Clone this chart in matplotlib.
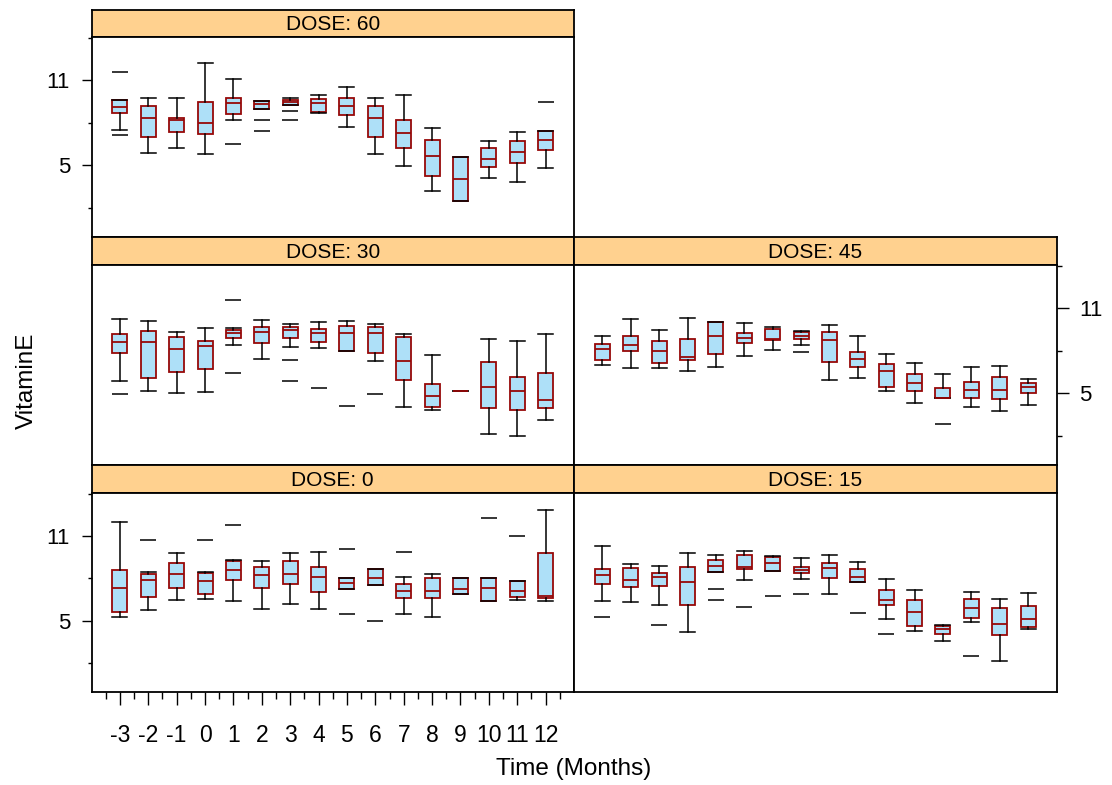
import matplotlib
matplotlib.use("Agg")
import matplotlib.pyplot as plt

plt.rcParams['font.family'] = ['Liberation Sans', 'DejaVu Sans']

months = ['-3', '-2', '-1', '0', '1', '2', '3', '4', '5', '6', '7', '8', '9', '10', '11', '12']

# DOSE 60
d60_lo = [7.52, 5.87, 6.20, 5.80, 8.22, 8.95, 9.24, 8.72, 7.68, 5.78, 4.93, 3.19, 2.48, 4.11, 3.85, 4.79]
d60_q1 = [8.69, 7.00, 7.38, 7.24, 8.62, 8.95, 9.24, 8.76, 8.58, 7.02, 6.20, 4.22, 2.48, 4.91, 5.19, 6.06]
d60_med = [9.14, 8.32, 8.22, 8.01, 9.40, 9.31, 9.45, 9.40, 9.21, 8.36, 7.28, 5.68, 4.04, 5.47, 5.94, 6.81]
d60_q3 = [9.59, 9.19, 8.36, 9.49, 9.78, 9.54, 9.59, 9.66, 9.73, 9.19, 8.20, 6.79, 5.59, 6.25, 6.74, 7.40]
d60_hi = [9.59, 9.75, 9.73, 12.22, 11.07, 9.54, 9.75, 9.96, 10.53, 9.75, 9.94, 7.64, 5.59, 6.72, 7.35, 7.45]
d60_out = [[11.59, 7.12], [], [], [], [6.51], [8.22, 7.42], [8.86, 8.18], [], [], [], [], [], [], [], [], [9.49]]

# DOSE 30
d30_lo = [5.87, 5.14, 5.00, 5.10, 8.43, 7.44, 8.29, 8.22, 7.96, 7.30, 4.06, 3.83, 5.14, 2.14, 2.02, 3.10]
d30_q1 = [7.82, 6.06, 6.48, 6.69, 8.90, 8.55, 8.90, 8.59, 7.96, 7.84, 5.96, 4.02, 5.14, 3.95, 3.81, 4.00]
d30_med = [8.64, 8.64, 8.15, 8.31, 9.27, 9.30, 9.44, 9.25, 9.27, 9.27, 7.30, 4.84, 5.14, 5.42, 5.19, 4.51]
d30_q3 = [9.18, 9.37, 8.97, 8.71, 9.46, 9.67, 9.70, 9.51, 9.74, 9.67, 8.97, 5.64, 5.14, 7.23, 6.13, 6.44]
d30_hi = [10.21, 10.07, 9.35, 9.58, 9.60, 10.19, 9.88, 10.00, 10.07, 9.86, 9.18, 7.68, 5.14, 8.81, 8.66, 9.20]
d30_out = [[4.96], [], [], [], [11.58, 6.41], [], [7.37, 5.85], [5.40], [4.13], [4.98], [], [], [], [], [], []]

# DOSE 45
d45_lo = [7.02, 6.81, 6.79, 6.55, 6.86, 7.65, 8.05, 8.43, 5.94, 6.08, 5.19, 4.32, 4.70, 4.04, 3.78, 4.16]
d45_q1 = [7.35, 7.96, 7.14, 7.35, 7.77, 8.52, 8.76, 8.83, 7.18, 6.86, 5.45, 5.17, 4.70, 4.65, 4.60, 5.00]
d45_med = [8.10, 8.43, 7.98, 7.56, 9.06, 8.92, 8.81, 9.06, 8.73, 7.42, 6.58, 5.73, 4.70, 5.26, 5.26, 5.43]
d45_q3 = [8.48, 9.06, 8.69, 8.83, 10.00, 9.25, 9.53, 9.32, 9.32, 7.91, 7.07, 6.38, 5.35, 5.78, 6.17, 5.76]
d45_hi = [9.06, 10.24, 9.49, 10.28, 10.00, 9.93, 9.67, 9.37, 9.79, 9.06, 7.80, 7.11, 6.34, 6.83, 6.95, 5.99]
d45_out = [[], [], [], [], [], [], [], [7.91], [], [], [], [], [2.84], [], [], []]

# DOSE 0
d0_lo = [5.23, 5.79, 6.49, 6.52, 6.38, 5.84, 6.21, 5.84, 7.27, 7.53, 5.51, 5.27, 6.92, 6.42, 6.49, 6.42]
d0_q1 = [5.60, 6.70, 7.34, 6.89, 7.92, 7.34, 7.60, 7.03, 7.27, 7.53, 6.63, 6.61, 6.92, 6.42, 6.70, 6.59]
d0_med = [7.29, 7.90, 8.32, 7.78, 8.58, 8.23, 8.28, 8.07, 7.64, 8.00, 7.10, 7.13, 7.22, 7.34, 7.13, 6.75]
d0_q3 = [8.56, 8.30, 9.08, 8.35, 9.26, 8.82, 9.26, 8.84, 8.04, 8.63, 7.57, 8.02, 8.00, 8.02, 7.81, 9.78]
d0_hi = [12.01, 8.44, 9.78, 8.42, 9.31, 9.24, 9.78, 9.85, 8.04, 8.65, 8.11, 8.30, 8.00, 8.04, 7.83, 12.83]
d0_out = [[], [10.74], [], [10.72], [11.80], [], [], [], [10.06, 5.46], [5.01], [9.85], [], [], [12.27], [11.02], []]

# DOSE 15
d15_lo = [6.38, 6.35, 6.09, 4.22, 8.46, 7.88, 8.49, 7.95, 6.89, 7.71, 5.15, 4.29, 3.58, 4.94, 2.15, 4.38]
d15_q1 = [7.57, 7.41, 7.43, 6.09, 8.46, 8.65, 8.54, 8.35, 8.00, 7.74, 6.09, 4.61, 4.05, 5.18, 3.96, 4.59]
d15_med = [8.23, 7.90, 8.11, 7.74, 8.89, 8.82, 9.10, 8.61, 8.77, 8.11, 6.47, 5.62, 4.40, 5.88, 4.78, 5.15]
d15_q3 = [8.70, 8.77, 8.35, 8.84, 9.29, 9.69, 9.54, 8.84, 9.10, 8.70, 7.17, 6.49, 4.66, 6.56, 5.93, 6.07]
d15_hi = [10.27, 9.00, 8.91, 9.80, 9.64, 9.97, 9.59, 9.45, 9.64, 9.15, 7.97, 7.20, 4.73, 7.06, 6.52, 6.94]
d15_out = [[5.27], [], [4.69], [], [7.22, 6.47], [5.95], [6.73], [6.92], [], [5.58], [4.08], [], [], [2.50], [], []]

W, H = 1112, 785
fig = plt.figure(figsize=(W / 100, H / 100), dpi=100)

FILL = '#AEE0F8'
EDGE = '#960808'
STRIP = '#FFD18F'


def rect(x0, y0, x1, y1):
    return [x0 / W, 1 - y1 / H, (x1 - x0) / W, (y1 - y0) / H]


def panel(x0, x1, ys, ye, pe, title, lo, q1, med, q3, hi, out, yside=None, xaxis=False):
    # strip
    sax = fig.add_axes(rect(x0, ys, x1, ye))
    sax.set_facecolor(STRIP)
    sax.set_xticks([])
    sax.set_yticks([])
    for s in sax.spines.values():
        s.set_linewidth(1.3)
    sax.text(0.5, 0.45, title, ha='center', va='center', fontsize=15, transform=sax.transAxes)
    ax = fig.add_axes(rect(x0, ye, x1, pe))
    stats = []
    for i in range(len(months)):
        stats.append(dict(med=med[i], q1=q1[i], q3=q3[i], whislo=lo[i], whishi=hi[i], fliers=out[i]))
    pos = list(range(1, len(months) + 1))
    ax.bxp(stats, positions=pos, widths=0.53, capwidths=0.53, patch_artist=True,
           boxprops=dict(facecolor=FILL, edgecolor=EDGE, linewidth=1.3),
           medianprops=dict(color=EDGE, linewidth=1.3),
           whiskerprops=dict(color='black', linewidth=1.1),
           capprops=dict(color='black', linewidth=1.1),
           flierprops=dict(marker='_', markersize=11, markeredgecolor='black', markeredgewidth=1.1))
    ax.set_xlim(0, len(months) + 1)
    ax.set_ylim(-0.05, 14.05)
    for s in ax.spines.values():
        s.set_linewidth(1.3)
    # y axis
    ax.set_yticks([5, 11])
    ax.set_yticks([2, 8, 14], minor=True)
    if yside == 'left':
        ax.yaxis.tick_left()
        ax.tick_params(axis='y', which='major', length=7.5, width=1, labelsize=16, pad=8)
        ax.tick_params(axis='y', which='minor', length=3.2, width=1)
    elif yside == 'right':
        ax.yaxis.tick_right()
        ax.tick_params(axis='y', which='major', length=8.5, width=1, labelsize=16, pad=8)
        ax.tick_params(axis='y', which='minor', length=3.5, width=1)
    else:
        ax.tick_params(axis='y', which='both', left=False, right=False, labelleft=False, labelright=False)
    if xaxis:
        ax.set_xticks(pos)
        ax.set_xticklabels(months)
        ax.set_xticks([p - 0.5 for p in pos] + [pos[-1] + 0.5], minor=True)
        ax.tick_params(axis='x', which='major', length=9, width=1, labelsize=16.5, pad=14)
        ax.tick_params(axis='x', which='minor', length=5, width=1)
    else:
        ax.set_xticks(pos)
        ax.tick_params(axis='x', which='both', bottom=False, top=False, labelbottom=False)
    return ax


XL0, XL1, XR1 = 91.5, 574, 1056.5
panel(XL0, XL1, 10, 37, 237, 'DOSE: 60', d60_lo, d60_q1, d60_med, d60_q3, d60_hi, d60_out, yside='left')
panel(XL0, XL1, 237, 265, 465, 'DOSE: 30', d30_lo, d30_q1, d30_med, d30_q3, d30_hi, d30_out)
panel(XL1, XR1, 237, 265, 465, 'DOSE: 45', d45_lo, d45_q1, d45_med, d45_q3, d45_hi, d45_out, yside='right')
panel(XL0, XL1, 465, 493, 692, 'DOSE: 0', d0_lo, d0_q1, d0_med, d0_q3, d0_hi, d0_out, yside='left', xaxis=True)
panel(XL1, XR1, 465, 493, 692, 'DOSE: 15', d15_lo, d15_q1, d15_med, d15_q3, d15_hi, d15_out)

fig.text(27 / W, 1 - 381 / H, 'VitaminE', rotation=90, ha='center', va='center', fontsize=17.5)
fig.text(574 / W, 1 - 769 / H, 'Time (Months)', ha='center', va='center', fontsize=17.5)

fig.savefig('out.png', dpi=100)
